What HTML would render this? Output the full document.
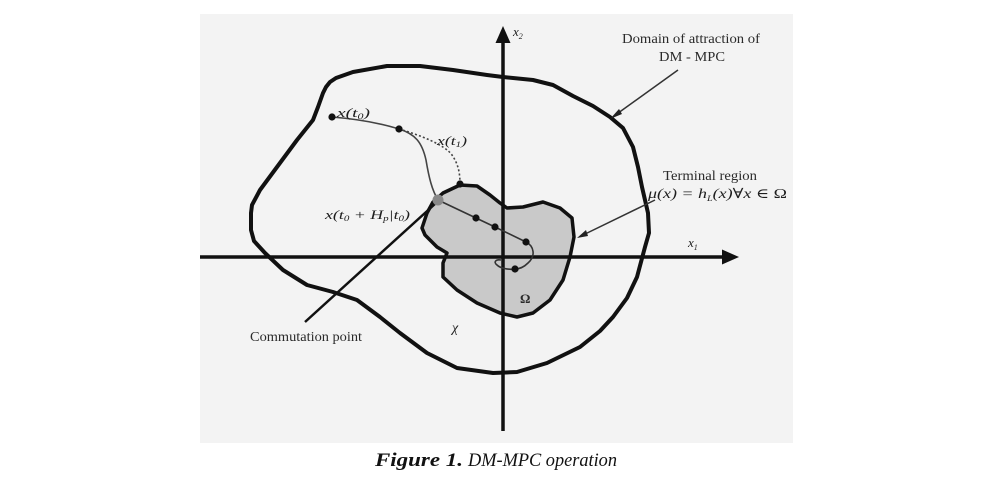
<!DOCTYPE html>
<html>
<head>
<meta charset="utf-8">
<style>
  html, body { margin: 0; padding: 0; background: #ffffff; }
  svg { display: block; }
  .lbl { font-family: "Liberation Serif", "DejaVu Serif", serif; fill: #2a2a2a; }
  .m { font-family: "Liberation Serif", "DejaVu Serif", serif; font-style: italic; fill: #1e1e1e; }
</style>
</head>
<body>
<svg width="1000" height="482" viewBox="0 0 1000 482" xmlns="http://www.w3.org/2000/svg">
  <rect x="0" y="0" width="1000" height="482" fill="#ffffff"/>
  <!-- gray panel -->
  <rect x="200" y="14" width="593" height="429" fill="#f3f3f3"/>

  <!-- outer domain boundary -->
  <polygon fill="none" stroke="#111" stroke-width="4" stroke-linejoin="round"
    points="323,93 318,107 313,120 297,140 277,167 260,190 252,205 251,213 251,230 254,241 265,253 283,270 307,285 333,292 357,300 380,317 400,333 427,353 457,368 493,373 517,372 547,363 580,347 600,331 613,317 627,298 637,277 645,247 649,233 648,213 642,187 638,167 633,147 623,128 610,117 593,106 573,96 553,85 533,80 503,77 487,75 453,70 420,66 387,66 353,72 336,78 330,82 326,87"/>

  <!-- inner terminal region -->
  <polygon fill="#c9c9c9" stroke="#111" stroke-width="3.5" stroke-linejoin="round"
    points="433,202 443,193 460,185 477,186 490,195 500,203 507,208 523,207 543,202 560,208 572,218 574,237 570,257 563,280 550,300 533,313 517,317 500,313 477,303 457,290 443,277 443,263 447,253 437,247 425,235 422,228 427,213"/>

  <!-- axes -->
  <line x1="200" y1="257" x2="726" y2="257" stroke="#111" stroke-width="3.5"/>
  <polygon points="739,257 722,249.5 722,264.5" fill="#111"/>
  <line x1="503" y1="40" x2="503" y2="431" stroke="#111" stroke-width="3.5"/>
  <polygon points="503,26 495.5,43 510.5,43" fill="#111"/>

  <!-- commutation line -->
  <line x1="305" y1="322" x2="436" y2="203" stroke="#111" stroke-width="2.5"/>

  <!-- pointer arrows -->
  <line x1="678" y1="70" x2="614" y2="116" stroke="#333" stroke-width="1.5"/>
  <polygon points="610,119 619,109 622,114" fill="#222"/>
  <line x1="655" y1="200" x2="581" y2="236" stroke="#333" stroke-width="1.5"/>
  <polygon points="577,238 586,230 588,236" fill="#222"/>

  <!-- trajectories -->
  <path d="M332,117 Q370,120 399,129 C415,134 422,142 426,160 C429,178 432,190 438,200" fill="none" stroke="#444" stroke-width="1.6"/>
  <path d="M399,129 C420,135 445,145 452,155 C459,165 460,175 460,184" fill="none" stroke="#444" stroke-width="1.6" stroke-dasharray="2,2.2"/>
  <path d="M438,200 L476,218 L495,227 L526,242 C534,246 536,256 528,263 C524,267 520,269 515,269 C508,270 500,268 497,265 C493,262 496,259 501,260" fill="none" stroke="#333" stroke-width="1.6"/>

  <!-- points -->
  <g fill="#111">
    <circle cx="332" cy="117" r="3.6"/>
    <circle cx="399" cy="129" r="3.6"/>
    <circle cx="460" cy="184" r="3.6"/>
    <circle cx="476" cy="218" r="3.6"/>
    <circle cx="495" cy="227" r="3.6"/>
    <circle cx="526" cy="242" r="3.6"/>
    <circle cx="515" cy="269" r="3.6"/>
  </g>
  <circle cx="438" cy="200" r="5.5" fill="#888"/>

  <!-- labels -->
  <text class="m" x="513" y="36" font-size="13">x<tspan font-size="8" dy="3">2</tspan></text>
  <text class="m" x="688" y="247" font-size="13">x<tspan font-size="8" dy="3">1</tspan></text>

  <text class="lbl" x="622" y="43" font-size="14" textLength="138" lengthAdjust="spacingAndGlyphs">Domain of attraction of</text>
  <text class="lbl" x="659" y="61" font-size="14" textLength="66" lengthAdjust="spacingAndGlyphs">DM - MPC</text>

  <text class="lbl" x="663" y="180" font-size="14" textLength="94" lengthAdjust="spacingAndGlyphs">Terminal region</text>
  <text class="m" x="648" y="198" font-size="14" textLength="139" lengthAdjust="spacingAndGlyphs">μ(x) = h<tspan font-size="8" dy="3">L</tspan><tspan dy="-3">(x)∀x ∈ </tspan><tspan font-style="normal">Ω</tspan></text>

  <text class="m" x="337" y="117" font-size="13" textLength="33" lengthAdjust="spacingAndGlyphs">x(t<tspan font-size="8" dy="2">0</tspan><tspan dy="-2">)</tspan></text>
  <text class="m" x="437" y="145" font-size="13" textLength="30" lengthAdjust="spacingAndGlyphs">x(t<tspan font-size="8" dy="2">1</tspan><tspan dy="-2">)</tspan></text>
  <text class="m" x="325" y="219" font-size="13" textLength="85" lengthAdjust="spacingAndGlyphs">x(t<tspan font-size="8" dy="2">0</tspan><tspan dy="-2"> + H</tspan><tspan font-size="8" dy="2">p</tspan><tspan dy="-2">|t</tspan><tspan font-size="8" dy="2">0</tspan><tspan dy="-2">)</tspan></text>

  <text class="lbl" x="250" y="341" font-size="14" textLength="112" lengthAdjust="spacingAndGlyphs">Commutation point</text>
  <text class="m" x="452" y="332" font-size="14">χ</text>
  <text class="lbl" x="520" y="303" font-size="13" font-weight="bold">Ω</text>

  <!-- caption -->
  <text x="375" y="466" font-size="19" font-family="'Liberation Serif', serif" font-style="italic" font-weight="bold" fill="#111" textLength="88" lengthAdjust="spacingAndGlyphs">Figure 1.</text>
  <text x="468" y="466" font-size="19" font-family="'Liberation Serif', serif" font-style="italic" fill="#111" textLength="149" lengthAdjust="spacingAndGlyphs">DM-MPC operation</text>
</svg>
</body>
</html>
